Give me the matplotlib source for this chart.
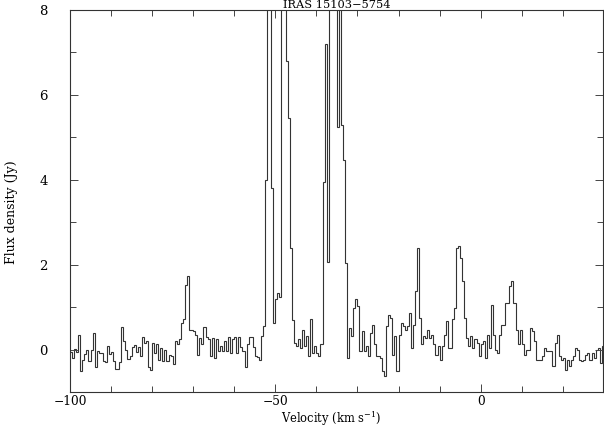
import matplotlib
matplotlib.use('Agg')
import matplotlib.pyplot as plt
import numpy as np
from matplotlib.ticker import MultipleLocator

# spectrum: channels 0.5 km/s wide starting at -100 km/s
v_start = -100.0
chan_width = 0.5
flux = np.array([
    -0.05, -0.2, 0.02, -0.05, 0.35, -0.5, -0.24, -0.1, 0.0, -0.27,
    0.0, 0.4, -0.4, -0.04, -0.08, -0.08, -0.27, -0.3, 0.08, -0.1,
    -0.05, -0.27, -0.45, -0.45, -0.3, 0.53, 0.2, 0.0, -0.22, -0.16,
    0.05, 0.1, -0.05, 0.05, -0.15, 0.3, 0.16, 0.2, -0.4, -0.47,
    0.16, -0.08, 0.12, -0.24, 0.04, -0.27, 0.0, -0.27, -0.12, -0.16,
    -0.35, 0.2, 0.12, 0.24, 0.63, 0.73, 1.53, 1.74, 0.47, 0.47,
    0.43, 0.35, -0.12, 0.27, 0.14, 0.53, 0.3, 0.24, -0.16, 0.27,
    -0.2, 0.24, -0.04, 0.08, -0.04, 0.2, -0.04, 0.3, -0.08, 0.24,
    0.3, -0.08, 0.3, 0.06, -0.04, -0.4, 0.14, 0.3, 0.3, 0.05,
    -0.16, -0.18, -0.24, 0.31, 0.55, 4.0, 12.0, 12.0, 3.8, 0.63,
    1.18, 1.34, 1.25, 13.0, 16.0, 6.8, 5.45, 2.4, 0.7, 0.15,
    0.08, 0.24, 0.04, 0.47, 0.08, 0.31, -0.16, 0.71, -0.08, 0.08,
    -0.08, -0.16, 0.12, 3.95, 7.2, 2.07, 20.0, 25.0, 28.0, 20.0,
    5.25, 15.0, 5.3, 4.47, 2.05, -0.2, 0.51, 0.31, 0.98, 1.2,
    1.02, -0.04, 0.43, -0.04, 0.08, -0.16, 0.39, 0.59, 0.12, -0.16,
    -0.16, -0.2, -0.51, -0.63, 0.55, 0.82, 0.74, -0.12, 0.31, -0.51,
    0.35, 0.63, 0.55, 0.47, 0.55, 0.86, 0.04, 0.59, 1.37, 2.39,
    0.75, 0.12, 0.31, 0.27, 0.47, 0.27, 0.35, 0.12, -0.12, 0.08,
    -0.24, 0.08, 0.35, 0.67, 0.04, 0.04, 0.71, 0.98, 2.39, 2.43,
    2.16, 1.61, 0.75, 0.27, 0.08, 0.31, 0.04, 0.24, 0.16, -0.16,
    0.12, 0.2, -0.2, 0.35, 0.04, 1.06, 0.35, 0.0, -0.08, 0.35,
    0.59, 0.59, 1.1, 1.1, 1.5, 1.61, 1.1, 0.47, 0.12, 0.47,
    0.12, -0.12, 0.0, 0.0, 0.51, 0.43, 0.2, -0.24, -0.24, -0.24,
    -0.16, 0.04, -0.04, -0.04, -0.04, -0.39, 0.16, 0.35, -0.16, -0.24,
    -0.2, -0.47, -0.24, -0.39, -0.24, -0.16, 0.04, 0.0, -0.24, -0.27,
    -0.24, -0.12, -0.08, -0.24, -0.08, -0.2, 0.0, 0.04, -0.31, 0.08,
])
edges = v_start + chan_width * np.arange(len(flux) + 1)

title = 'IRAS 15103\u22125754'
xlabel = 'Velocity (km s$^{-1}$)'
ylabel = 'Flux density (Jy)'

plt.rcParams['font.family'] = ['DejaVu Serif']
plt.rcParams['mathtext.fontset'] = 'dejavuserif'

fig = plt.figure(figsize=(6.04, 4.25), dpi=100)
ax = fig.add_axes([70 / 604, 1 - 392 / 425, 533 / 604, 382 / 425])

ax.stairs(flux, edges, color='#333333', lw=0.8)
ax.set_xlim(-100, 29.8)
ax.set_ylim(-1, 8)

ax.xaxis.set_major_locator(MultipleLocator(50))
ax.xaxis.set_minor_locator(MultipleLocator(10))
ax.yaxis.set_major_locator(MultipleLocator(2))
ax.yaxis.set_minor_locator(MultipleLocator(1))
ax.tick_params(which='both', direction='in', top=True, right=True,
               labelsize=9.5, color='#444444', width=0.7)
ax.tick_params(which='major', length=6)
ax.tick_params(which='minor', length=4)
ax.tick_params(axis='y', pad=16)
ax.tick_params(axis='x', pad=2, labelsize=8.8)
for s in ax.spines.values():
    s.set_linewidth(0.8)
    s.set_color('#333333')

ax.set_title(title, fontsize=8.2, pad=0.3)
ax.set_xlabel(xlabel, fontsize=8.3, va='top')
ax.xaxis.set_label_coords(0.49, -0.046)
ax.set_ylabel(ylabel, fontsize=9)
ax.yaxis.set_label_coords(-0.097, 0.47)

fig.savefig('out.png', dpi=100)
